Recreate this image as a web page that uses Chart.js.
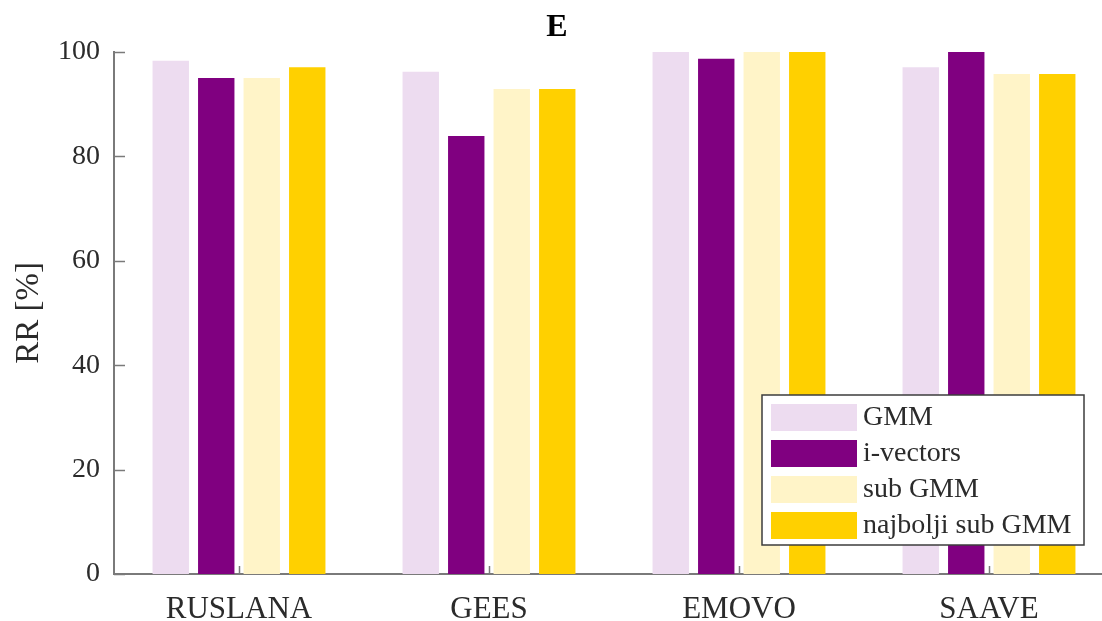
<!DOCTYPE html>
<html>
<head>
<meta charset="utf-8">
<script src="https://cdn.jsdelivr.net/npm/chart.js@4/dist/chart.umd.min.js"></script>
<style>
html,body{margin:0;padding:0;background:#fff;overflow:hidden;width:1102px;height:621px;}
canvas{display:block;}
</style>
</head>
<body>
<canvas id="c" width="1114" height="621"></canvas>
<script>
const categories = ['RUSLANA', 'GEES', 'EMOVO', 'SAAVE'];
const gmm = [98.3, 96.2, 100, 97.1];
const ivectors = [95.0, 83.9, 98.7, 100];
const subGmm = [95.0, 92.9, 100, 95.8];
const bestSubGmm = [97.1, 92.9, 100, 95.8];
const seriesLabels = ['GMM', 'i-vectors', 'sub GMM', 'najbolji sub GMM'];
const yTicks = [0, 20, 40, 60, 80, 100];

const colors = ['#EDDCF0', '#800080', '#FFF4C8', '#FFD000'];
const serif = "'Liberation Serif','DejaVu Serif',serif";
const axisColor = '#7a7a7a';
const textColor = '#2b2b2b';

const axesPlugin = {
  id: 'axesTicks',
  afterDatasetsDraw(chart) {
    const ctx = chart.ctx, ca = chart.chartArea;
    const x = chart.scales.x, y = chart.scales.y;
    ctx.save();
    ctx.strokeStyle = axisColor;
    ctx.lineWidth = 1.5;
    yTicks.forEach(v => {
      const py = Math.round(y.getPixelForValue(v)) + 0.5;
      ctx.beginPath(); ctx.moveTo(ca.left, py); ctx.lineTo(ca.left + 11, py); ctx.stroke();
    });
    categories.forEach((c, i) => {
      const px = Math.round(x.getPixelForValue(i)) + 0.5;
      ctx.beginPath(); ctx.moveTo(px, ca.bottom); ctx.lineTo(px, ca.bottom - 8); ctx.stroke();
    });
    ctx.restore();
  }
};

const legendPlugin = {
  id: 'boxLegend',
  afterDraw(chart) {
    const ctx = chart.ctx, ca = chart.chartArea;
    const right = ca.right - 30, bottom = ca.bottom - 29;
    const w = 322, h = 150;
    const left = right - w, top = bottom - h;
    ctx.save();
    ctx.fillStyle = '#fff';
    ctx.fillRect(left, top, w, h);
    ctx.strokeStyle = '#3c3c3c';
    ctx.lineWidth = 1.5;
    ctx.strokeRect(left, top, w, h);
    ctx.font = '28px ' + serif;
    ctx.textBaseline = 'middle';
    ctx.textAlign = 'left';
    chart.data.datasets.forEach((ds, i) => {
      const ry = top + 9 + i * 36;
      ctx.fillStyle = ds.backgroundColor;
      ctx.fillRect(left + 9, ry, 86, 27);
      ctx.fillStyle = textColor;
      ctx.fillText(ds.label, left + 101, ry + 14);
    });
    ctx.restore();
  }
};

const seriesData = [gmm, ivectors, subGmm, bestSubGmm];

new Chart(document.getElementById('c'), {
  type: 'bar',
  data: {
    labels: categories,
    datasets: seriesData.map((d, i) => ({
      label: seriesLabels[i],
      data: d,
      backgroundColor: colors[i],
      borderWidth: 0,
      categoryPercentage: 0.728,
      barPercentage: 0.8
    }))
  },
  options: {
    responsive: false,
    animation: false,
    devicePixelRatio: 1,
    layout: { padding: { left: 0, right: 0, top: 0, bottom: 0 } },
    plugins: {
      legend: { display: false },
      tooltip: { enabled: false },
      title: {
        display: true,
        text: 'E',
        color: '#000',
        font: { family: serif, size: 32, weight: 'bold', lineHeight: 1.0 },
        padding: { top: 12, bottom: 8 }
      }
    },
    scales: {
      x: {
        type: 'category',
        offset: true,
        grid: { display: false, drawTicks: false },
        border: { display: true, color: axisColor, width: 2 },
        ticks: { color: textColor, font: { family: serif, size: 31 }, padding: 17, maxRotation: 0 },
        afterFit(s) { s.height = 47; }
      },
      y: {
        min: 0, max: 100,
        afterBuildTicks(s) { s.ticks = yTicks.map(v => ({ value: v })); },
        grid: { display: false, drawTicks: false },
        border: { display: true, color: axisColor, width: 2 },
        ticks: { color: textColor, font: { family: serif, size: 28 }, padding: 14 },
        title: { display: true, text: 'RR [%]', color: textColor, font: { family: serif, size: 33, lineHeight: 1.2 }, padding: { top: 10, bottom: 0 } },
        afterFit(s) { s.width = 114; }
      }
    }
  },
  plugins: [axesPlugin, legendPlugin]
});
</script>
</body>
</html>
